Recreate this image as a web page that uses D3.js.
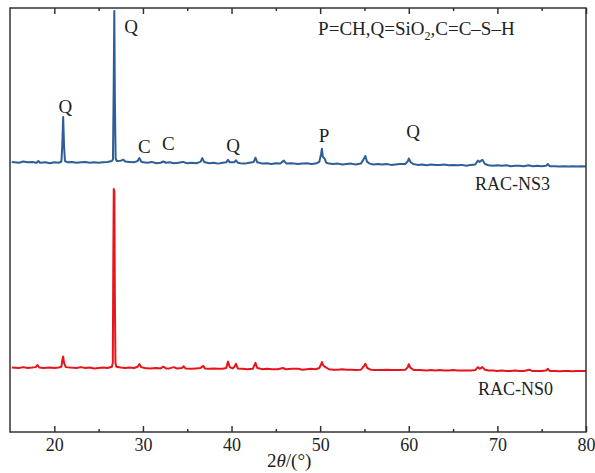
<!DOCTYPE html>
<html>
<head>
<meta charset="utf-8">
<script src="https://cdn.jsdelivr.net/npm/d3@7"></script>
<style>
  body { margin: 0; background: #fff; }
  text { font-family: "Liberation Serif", "DejaVu Serif", serif; fill: #222; }
</style>
</head>
<body>
<div id="chart"></div>
<script>
// XRD patterns, [2theta, intensity above own baseline] (a.u.)
const ns3 = [
  [15.2,2],[16,0],[16.5,3],[17,1],[17.5,2],[18,0],[18.2,4],[18.4,0],[19,1],[19.5,-1],[20,1],[20.5,0],
  [20.8,3],[20.9,40],[21,108],[21.1,40],[21.2,4],[21.5,1],[22,2],[22.5,0],[23,1],[23.5,2],[24,0],
  [24.5,1],[25,0],[25.5,1],[26,2],[26.5,4],[26.62,8],[26.7,180],[26.77,358],[26.84,140],[26.92,10],
  [27.05,4],[27.5,5],[27.8,7],[28,3],[28.5,2],[29,1],[29.4,4],[29.6,11],[29.8,3],[30,1],[30.5,0],
  [31,2],[31.5,-1],[32,0],[32.3,3],[32.6,0],[33,1],[33.5,-1],[34,0],[34.5,2],[35,-1],[35.5,0],
  [36,-1],[36.5,2],[36.7,11],[36.9,2],[37.5,-1],[38,0],[38.5,-2],[39,0],[39.4,1],[39.6,7],[39.8,1],
  [40.3,1],[40.5,6],[40.7,0],[41,-1],[41.5,-2],[42,0],[42.5,2],[42.7,12],[42.9,1],[43.5,-2],[44,-1],
  [44.5,-3],[45,-1],[45.5,-2],[45.9,5],[46.2,-2],[46.8,-1],[47.5,-3],[48,-2],[48.5,-1],[49,-3],
  [49.5,-2],[49.9,2],[50.1,20],[50.2,33],[50.3,14],[50.5,10],[50.7,0],[51,-2],[51.5,-3],[52,-2],
  [52.5,-4],[53,-3],[53.5,-2],[54,-4],[54.6,-2],[54.9,8],[55.1,16],[55.3,2],[55.6,-2],[56,-4],
  [56.5,-3],[57,-4],[57.5,-3],[58,-5],[58.5,-4],[59,-3],[59.6,-3],[59.9,4],[60,10],[60.2,2],
  [60.5,-3],[61,-5],[61.5,-4],[62,-6],[62.5,-4],[63,-5],[63.5,-5],[64,-4],[64.5,-6],[65,-5],
  [65.5,-6],[66,-5],[66.5,-7],[67,-5],[67.5,-4],[67.8,5],[68,2],[68.3,7],[68.6,-3],[69,-6],
  [69.5,-7],[70,-6],[70.5,-7],[71,-6],[71.5,-8],[72,-7],[72.5,-7],[73,-8],[73.5,-6],[74,-8],
  [74.5,-7],[75,-8],[75.5,-7],[75.7,-3],[75.9,-8],[76.5,-8],[77,-9],[77.5,-8],[78,-9],[78.5,-8],
  [79,-9],[79.5,-8],[80,-9]
];

const ns0 = [
  [15.2,1],[16,0],[16.5,2],[17,0],[17.5,1],[17.9,2],[18.1,7],[18.3,1],[18.8,0],[19.5,1],[20,0],
  [20.5,1],[20.8,3],[20.9,18],[21,27],[21.1,12],[21.3,2],[21.8,1],[22.5,0],[23,2],[23.5,0],[24,1],
  [24.5,-1],[25,0],[25.5,1],[26,0],[26.5,3],[26.6,12],[26.66,260],[26.71,422],[26.78,415],
  [26.83,177],[26.9,12],[27.0,3],[27.5,1],[28,0],[28.5,1],[29,0],[29.4,3],[29.6,9],[29.8,2],
  [30.2,0],[30.8,-1],[31.5,0],[32,-1],[32.3,3],[32.6,-1],[33,-1],[33.5,2],[33.8,-1],[34.4,0],
  [34.6,4],[34.8,-1],[35.5,-2],[36,-1],[36.5,0],[36.8,5],[37,-1],[37.5,-2],[38,-1],[38.5,-2],
  [39,-2],[39.4,0],[39.6,15],[39.8,2],[40.1,-1],[40.3,2],[40.5,10],[40.7,-1],[41.2,-2],[41.8,-3],
  [42.4,-2],[42.7,12],[42.9,0],[43.5,-3],[44,-2],[44.6,-3],[45.2,-3],[45.8,0],[46.1,-3],[46.8,-2],
  [47.5,-2],[48,-4],[48.5,-3],[49,-2],[49.5,-3],[49.9,0],[50.1,8],[50.2,14],[50.35,6],[50.6,2],
  [51,-3],[51.5,-4],[52,-4],[52.5,-3],[53,-4],[53.5,-4],[54,-5],[54.6,-4],[54.9,3],[55.1,10],
  [55.3,0],[55.7,-4],[56.2,-5],[57,-5],[57.5,-4],[58,-5],[58.5,-5],[59,-5],[59.6,-4],[59.9,2],
  [60,9],[60.2,0],[60.6,-5],[61.2,-5],[62,-6],[62.5,-5],[63,-6],[63.5,-5],[64,-6],[64.5,-6],
  [65,-5],[65.5,-6],[66,-6],[66.5,-6],[67,-6],[67.5,-5],[67.8,2],[68,-2],[68.3,2],[68.6,-4],
  [69,-6],[69.5,-6],[70,-7],[70.5,-6],[71,-7],[71.5,-7],[72,-6],[72.5,-7],[73,-7],[73.6,-4],
  [73.9,-7],[74.5,-7],[75,-7],[75.5,-6],[75.7,-2],[75.9,-7],[76.5,-7],[77,-8],[77.5,-7],[78,-7],
  [78.5,-8],[79,-7],[79.5,-7],[80,-7]
];

// vertical stacking offsets
const offsets = { ns3: 635, ns0: 151 };

const majorTicks = [20, 30, 40, 50, 60, 70, 80];
const minorTicks = [25, 35, 45, 55, 65, 75];

// peak labels [2theta, intensity, text]
const peakLabels = [
  [28.68, 941, "Q"], [21.24, 752, "Q"], [30.15, 658, "C"], [32.86, 665, "C"],
  [40.19, 660, "Q"], [50.45, 684, "P"], [60.49, 693, "Q"]
];
const seriesLabels = [[67.48, 571, "RAC-NS3"], [67.82, 87, "RAC-NS0"]];

const width = 595, height = 473;
const margin = { top: 8, right: 9, bottom: 41, left: 10 };

const svg = d3.select("#chart").append("svg")
  .attr("width", width)
  .attr("height", height);

const x = d3.scaleLinear().domain([15, 80]).range([margin.left, width - margin.right]);
const y = d3.scaleLinear().domain([0, 1000]).range([height - margin.bottom, margin.top]);

const line = d3.line()
  .x(d => x(d[0]))
  .y(d => y(d[1]));

svg.append("path")
  .datum(ns0.map(d => [d[0], d[1] + offsets.ns0]))
  .attr("fill", "none")
  .attr("stroke", "#e8141c")
  .attr("stroke-width", 2)
  .attr("stroke-linejoin", "round")
  .attr("d", line);

svg.append("path")
  .datum(ns3.map(d => [d[0], d[1] + offsets.ns3]))
  .attr("fill", "none")
  .attr("stroke", "#2d5e97")
  .attr("stroke-width", 2)
  .attr("stroke-linejoin", "round")
  .attr("d", line);

// axes with inward ticks
const bottom = svg.append("g")
  .attr("transform", `translate(0,${height - margin.bottom})`)
  .call(d3.axisBottom(x).tickValues(majorTicks).tickSizeInner(-6).tickSizeOuter(0).tickPadding(6));
bottom.selectAll("text").style("font-size", "18px").attr("fill", "#222");

svg.append("g")
  .attr("transform", `translate(0,${height - margin.bottom})`)
  .call(d3.axisBottom(x).tickValues(minorTicks).tickSizeInner(-3).tickSizeOuter(0).tickFormat(""));

svg.append("g")
  .attr("transform", `translate(0,${margin.top})`)
  .call(d3.axisTop(x).tickValues(majorTicks).tickSizeInner(-6).tickSizeOuter(0).tickFormat(""));

svg.append("g")
  .attr("transform", `translate(0,${margin.top})`)
  .call(d3.axisTop(x).tickValues(minorTicks).tickSizeInner(-3).tickSizeOuter(0).tickFormat(""));

svg.selectAll(".domain").remove();
svg.selectAll(".tick line").attr("stroke", "#333").attr("stroke-width", 1.5);

svg.append("rect")
  .attr("x", x(15)).attr("y", y(1000))
  .attr("width", x(80) - x(15)).attr("height", y(0) - y(1000))
  .attr("fill", "none")
  .attr("stroke", "#333")
  .attr("stroke-width", 1.5);

// labels
svg.selectAll(".peak")
  .data(peakLabels)
  .join("text")
  .attr("class", "peak")
  .attr("x", d => x(d[0]))
  .attr("y", d => y(d[1]))
  .attr("text-anchor", "middle")
  .style("font-size", "19px")
  .text(d => d[2]);

svg.selectAll(".series")
  .data(seriesLabels)
  .join("text")
  .attr("class", "series")
  .attr("x", d => x(d[0]))
  .attr("y", d => y(d[1]))
  .style("font-size", "18px")
  .text(d => d[2]);

const legend = svg.append("text")
  .attr("x", x(49.77))
  .attr("y", 35)
  .style("font-size", "19px");
legend.append("tspan").text("P=CH,Q=SiO");
legend.append("tspan").attr("dy", 5).style("font-size", "12px").text("2");
legend.append("tspan").attr("dy", -5).text(",C=C\u2013S\u2013H");

const xTitle = svg.append("text")
  .attr("x", x(46.5))
  .attr("y", 467)
  .attr("text-anchor", "middle")
  .style("font-size", "19px");
xTitle.append("tspan").text("2");
xTitle.append("tspan").style("font-style", "italic").text("\u03b8");
xTitle.append("tspan").text("/(\u00b0)");
</script>
</body>
</html>
